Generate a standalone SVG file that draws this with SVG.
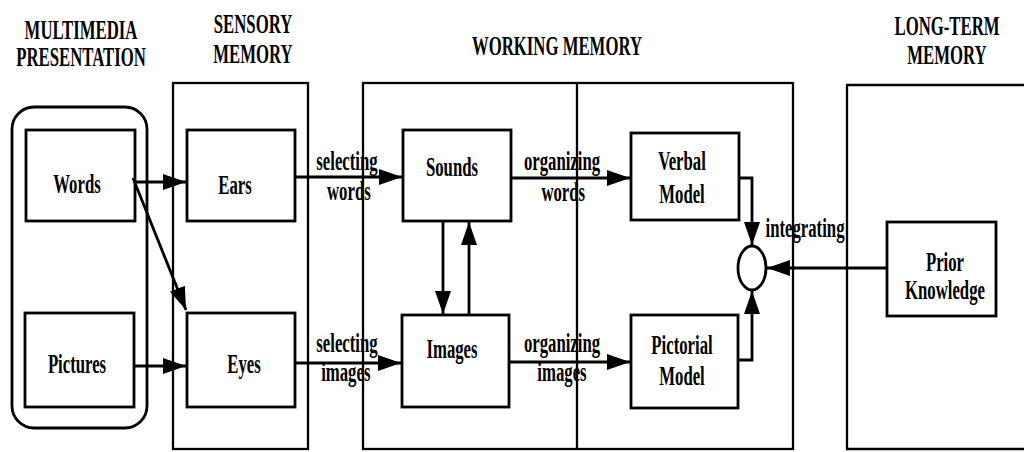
<svg xmlns="http://www.w3.org/2000/svg" width="1024" height="452" viewBox="0 0 1024 452">
<style>
.box{fill:none;stroke:#000;stroke-width:2.8}
.frame{fill:none;stroke:#000;stroke-width:2.3}
.con{fill:none;stroke:#000;stroke-width:2.8}
text{font-family:"Liberation Serif","Times New Roman",serif;font-size:27px;font-weight:bold;fill:#000;text-anchor:middle}
</style>
<defs>
<marker id="ah" markerUnits="userSpaceOnUse" markerWidth="26" markerHeight="18" refX="23" refY="8" orient="auto">
<path d="M0,0 L23,8 L0,16 z" fill="#000"/>
</marker>
</defs>
<rect width="1024" height="452" fill="#fff"/>

<g id="headers">
<text transform="translate(81,39) scale(0.62,1)"><tspan x="0" y="0">MULTIMEDIA</tspan><tspan x="0" y="27">PRESENTATION</tspan></text>
<text transform="translate(253,33) scale(0.62,1)"><tspan x="0" y="0">SENSORY</tspan><tspan x="0" y="30">MEMORY</tspan></text>
<text transform="translate(557,55) scale(0.62,1)">WORKING MEMORY</text>
<text transform="translate(947,35) scale(0.62,1)"><tspan x="0" y="0">LONG-TERM</tspan><tspan x="0" y="29">MEMORY</tspan></text>
</g>

<g id="multimedia-presentation">
<rect class="box" x="12" y="107" width="135" height="321" rx="22"/>
</g>
<g id="sensory-memory">
<rect class="frame" x="173" y="83" width="135" height="366"/>
</g>
<g id="working-memory">
<rect class="frame" x="363" y="83" width="430" height="366"/>
<line class="frame" x1="577" y1="83" x2="577" y2="449"/>
</g>
<g id="long-term-memory">
<path class="frame" d="M1030,85 H847 V449 H1030"/>
</g>

<g id="words">
<rect class="box" x="26" y="130" width="109" height="91"/>
<text transform="translate(77,193) scale(0.62,1)">Words</text>
</g>
<g id="pictures">
<rect class="box" x="25" y="313" width="109" height="94"/>
<text transform="translate(77,373) scale(0.62,1)">Pictures</text>
</g>
<g id="ears">
<rect class="box" x="187" y="130" width="108" height="91"/>
<text transform="translate(235,194) scale(0.62,1)">Ears</text>
</g>
<g id="eyes">
<rect class="box" x="187" y="313" width="108" height="94"/>
<text transform="translate(244,373) scale(0.62,1)">Eyes</text>
</g>
<g id="sounds">
<rect class="box" x="403" y="130" width="108" height="91"/>
<text transform="translate(452,176) scale(0.62,1)">Sounds</text>
</g>
<g id="images">
<rect class="box" x="402" y="315" width="107" height="92"/>
<text transform="translate(452,358) scale(0.62,1)">Images</text>
</g>
<g id="verbal-model">
<rect class="box" x="631" y="133" width="108" height="87"/>
<text transform="translate(682,170) scale(0.62,1)"><tspan x="0" y="0">Verbal</tspan><tspan x="0" y="33">Model</tspan></text>
</g>
<g id="pictorial-model">
<rect class="box" x="631" y="315" width="107" height="93"/>
<text transform="translate(682,354) scale(0.62,1)"><tspan x="0" y="0">Pictorial</tspan><tspan x="0" y="31">Model</tspan></text>
</g>
<g id="integration">
<ellipse class="box" cx="752" cy="268" rx="14" ry="22"/>
</g>
<g id="prior-knowledge">
<rect class="box" x="887" y="222" width="109" height="94"/>
<text transform="translate(945,271) scale(0.62,1)"><tspan x="0" y="0">Prior</tspan><tspan x="0" y="28">Knowledge</tspan></text>
</g>

<g id="connectors">
<path class="con" d="M135,182 H186" marker-end="url(#ah)"/>
<path class="con" d="M133,178 L186,310" marker-end="url(#ah)"/>
<path class="con" d="M134,366 H186" marker-end="url(#ah)"/>
<path class="con" d="M295,177 H402" marker-end="url(#ah)"/>
<path class="con" d="M295,363 H401" marker-end="url(#ah)"/>
<path class="con" d="M511,178 H630" marker-end="url(#ah)"/>
<path class="con" d="M509,362 H630" marker-end="url(#ah)"/>
<path class="con" d="M443,221 V314" marker-end="url(#ah)"/>
<path class="con" d="M469,315 V222" marker-end="url(#ah)"/>
<path class="con" d="M739,178 H752 V245" marker-end="url(#ah)"/>
<path class="con" d="M738,360 H752 V291" marker-end="url(#ah)"/>
<path class="con" d="M887,268 H767" marker-end="url(#ah)"/>
</g>

<g id="connector-labels">
<text transform="translate(347,170) scale(0.62,1)"><tspan x="0" y="0">selecting</tspan><tspan x="3" y="30">words</tspan></text>
<text transform="translate(347,352) scale(0.62,1)"><tspan x="0" y="0">selecting</tspan><tspan x="-2" y="29">images</tspan></text>
<text transform="translate(562,170) scale(0.62,1)"><tspan x="0" y="0">organizing</tspan><tspan x="2" y="31">words</tspan></text>
<text transform="translate(562,352) scale(0.62,1)"><tspan x="0" y="0">organizing</tspan><tspan x="0" y="29">images</tspan></text>
<text transform="translate(805,237) scale(0.62,1)">integrating</text>
</g>
</svg>
